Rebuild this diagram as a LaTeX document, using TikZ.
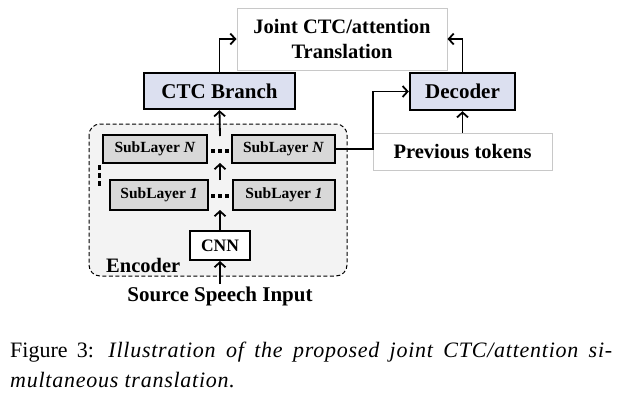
\documentclass[tikz,border=0pt]{standalone}
\usepackage{fontspec}
\setmainfont{Liberation Serif}
\newfontfamily\capit[LetterSpace=3.4]{Liberation Serif Italic}
\usetikzlibrary{arrows.meta}
\definecolor{ctcblue}{HTML}{DCE0F0}
\definecolor{subgray}{HTML}{D8D8D8}
\definecolor{encgray}{HTML}{F3F3F3}
\definecolor{thingray}{HTML}{C8C8C8}
\begin{document}
\begin{tikzpicture}[x=1pt,y=-1pt,
  thinbox/.style={draw=thingray,line width=1pt,fill=white,inner sep=0pt,font=\bfseries\fontsize{20.5}{25}\selectfont,align=center},
  bluebox/.style={draw=black,line width=2.4pt,fill=ctcblue,inner sep=0pt,font=\bfseries\fontsize{21}{22}\selectfont},
  subbox/.style={draw=black,line width=2.2pt,fill=subgray,inner sep=0pt,font=\bfseries\fontsize{15.5}{16}\selectfont},
  cnnbox/.style={draw=black,line width=2pt,fill=white,inner sep=0pt,font=\bfseries\fontsize{17.5}{18}\selectfont},
  conn/.style={line width=1.8pt,-{Straight Barb[length=5pt,width=11pt,line width=1.8pt]}},
  dotsq/.style={fill=black},
  captext/.style={anchor=west,inner sep=0pt,font=\fontsize{22}{28}\selectfont}
]
\useasboundingbox (0,0) rectangle (623,400);
% Encoder background
\draw[line width=1pt,rounded corners=11pt,fill=encgray,dash pattern=on 4pt off 2.5pt] (89,124) rectangle (347,276);
\node[font=\bfseries\fontsize{20.5}{22}\selectfont,anchor=west,inner sep=0pt] (enclabel) at (106,265) {Encoder};

\node[thinbox,minimum width=210pt,minimum height=62pt] (joint) at (342,39) {Joint CTC/attention\\Translation};
\node[bluebox,minimum width=151pt,minimum height=36pt] (ctc) at (219.5,91) {CTC Branch};
\node[bluebox,minimum width=105pt,minimum height=37pt] (dec) at (462.5,91.5) {Decoder};
\node[thinbox,minimum width=179pt,minimum height=37pt] (prev) at (462.5,151.5) {Previous tokens};

\node[subbox,minimum width=104pt,minimum height=28pt] (snl) at (155,149) {SubLayer \textit{N}};
\node[subbox,minimum width=103pt,minimum height=28pt] (snr) at (283.5,149) {SubLayer \textit{N}};
\node[subbox,minimum width=98pt,minimum height=30pt] (s1l) at (159,195) {SubLayer \textit{1}};
\node[subbox,minimum width=102pt,minimum height=30pt] (s1r) at (284,195) {SubLayer \textit{1}};
\node[cnnbox,minimum width=60pt,minimum height=29pt] (cnn) at (220,245.5) {CNN};

\foreach \xx in {213,220,227} {
  \fill[dotsq] (\xx-1.6,149.4) rectangle (\xx+1.6,152.6);
  \fill[dotsq] (\xx-1.6,194.4) rectangle (\xx+1.6,197.6);
}
\foreach \yy in {167,175,183} \fill[dotsq] (97.5,\yy-2.5) rectangle (100.5,\yy+2.5);

\node[font=\bfseries\fontsize{21}{22}\selectfont,inner sep=0pt] (src) at (220,296) {Source Speech Input};

\coordinate (srctop) at (220,284);
\coordinate (r1b) at (220,210);
\coordinate (r1t) at (220,180);
\coordinate (rNb) at (220,163);
\coordinate (rNt) at (220,136);
\coordinate (bend) at (373,149);

\draw[conn] (srctop) -- (cnn.south);
\draw[conn] (cnn.north) -- (r1b);
\draw[conn] (r1t) -- (rNb);
\draw[conn] (rNt) -- (ctc.south);
\draw[conn] (ctc.north) |- (joint.west);
\draw[conn] (dec.north) |- (joint.east);
\draw[conn] (prev.north) -- (dec.south);
\draw[conn] (snr.east) -- (bend) |- (dec.west);

\node[captext] (cap1) at (10,352) {\hbox to 602pt{Figure 3: {\capit Illustration of the proposed joint CTC/attention si-}}};
\node[captext] (cap2) at (10,380) {\capit multaneous translation.};
\end{tikzpicture}
\end{document}
